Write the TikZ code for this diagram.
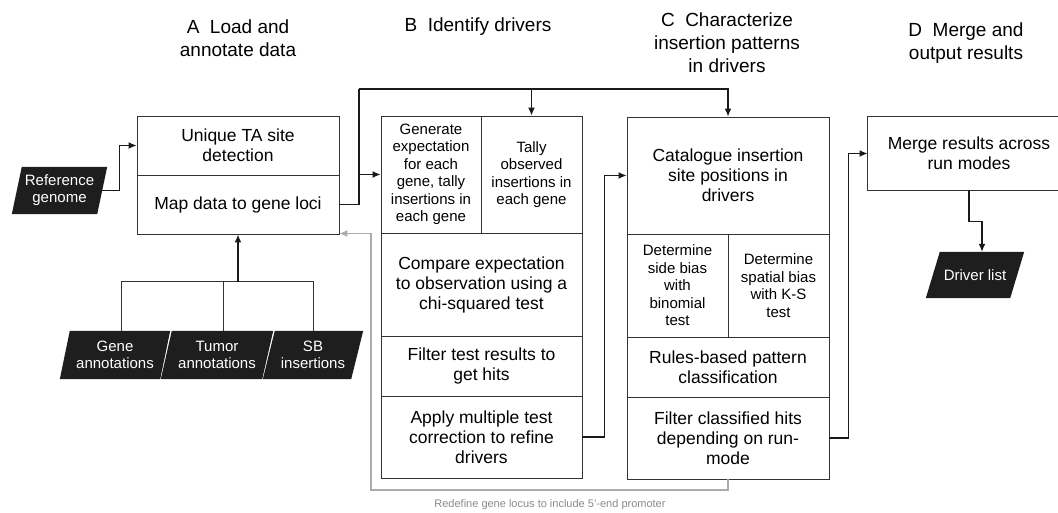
\documentclass[tikz,border=0pt]{standalone}
\usepackage{fontspec}
\setmainfont{Liberation Sans}
\usetikzlibrary{arrows.meta}
\definecolor{boxc}{HTML}{333333}
\definecolor{linec}{HTML}{1A1A1A}
\definecolor{grayc}{HTML}{ABABAB}
\definecolor{labc}{HTML}{8A8A8A}
\definecolor{parac}{HTML}{1E1E1E}
\pgfdeclarelayer{bg}
\pgfsetlayers{bg,main}
\newcommand\drawpara[2]{\fill[parac] ([xshift=#2]#1.north west) -- ([xshift=#2]#1.north east) -- ([xshift=-#2]#1.south east) -- ([xshift=-#2]#1.south west) -- cycle;}
\begin{document}
\begin{tikzpicture}[x=1pt,y=-1pt,
  box/.style={draw=boxc, line width=0.9pt, align=center, inner sep=0pt, font=\fontsize{17.5}{20}\selectfont},
  cellbox/.style={box, font=\fontsize{15}{17.5}\selectfont},
  databox/.style={inner sep=0pt, align=center, text=white, font=\fontsize{15}{17}\selectfont},
  titlebox/.style={align=center, inner sep=0pt, font=\fontsize{19}{23}\selectfont},
  arr/.style={line width=1.3pt, draw=linec, -{Latex[length=8pt,width=7pt]}},
  garr/.style={line width=1.2pt, draw=grayc, -{Latex[length=8pt,width=7pt]}},
  ln/.style={line width=1.3pt, draw=linec}]
\useasboundingbox (0,0) rectangle (1058,513);

% titles
\node[titlebox] (tA) at (238,38) {A\ \ Load and\\annotate data};
\node[titlebox] (tB) at (478,27) {B\ \ Identify drivers};
\node[titlebox] (tC) at (727,43) {C\ \ Characterize\\insertion patterns\\in drivers};
\node[titlebox] (tD) at (966,43) {D\ \ Merge and\\output results};

% A
\node[box, minimum width=202, minimum height=59] (uta) at (238,145.5) {Unique TA site\\detection};
\node[box, minimum width=202, minimum height=59] (map) at (238,204.5) {Map data to gene loci};

% data inputs
\node[databox, minimum width=85, minimum height=47] (ref) at (59.5,190.5) {Reference\\genome};
\node[databox, minimum width=100, minimum height=48] (gene) at (115,355) {Gene\\annotations};
\node[databox, minimum width=101, minimum height=48] (tumor) at (217,355) {Tumor\\annotations};
\node[databox, minimum width=88, minimum height=48] (sb) at (313,355) {SB\\insertions};
\node[databox, minimum width=84, minimum height=46] (drv) at (975,275) {Driver list};
\begin{pgfonlayer}{bg}
\drawpara{ref}{5}
\drawpara{gene}{5}
\drawpara{tumor}{5.5}
\drawpara{sb}{6}
\drawpara{drv}{7}
\end{pgfonlayer}

% B
\node[cellbox, minimum width=100, minimum height=117] (gen) at (431,174.5) {Generate\\expectation\\for each\\gene, tally\\insertions in\\each gene};
\node[cellbox, minimum width=101, minimum height=117] (tally) at (531.5,174.5) {Tally\\observed\\insertions in\\each gene};
\node[box, minimum width=201, minimum height=103] (cmp) at (481.5,284.5) {Compare expectation\\to observation using a\\chi-squared test};
\node[box, minimum width=201, minimum height=60] (filt) at (481.5,366) {Filter test results to\\get hits};
\node[box, minimum width=201, minimum height=82] (apply) at (481.5,437) {Apply multiple test\\correction to refine\\drivers};

% C
\node[box, minimum width=202, minimum height=117] (cat) at (728,175.5) {Catalogue insertion\\site positions in\\drivers};
\node[cellbox, minimum width=101, minimum height=103] (side) at (677.5,285.5) {Determine\\side bias\\with\\binomial\\test};
\node[cellbox, minimum width=101, minimum height=103] (spat) at (778.5,285.5) {Determine\\spatial bias\\with K-S\\test};
\node[box, minimum width=202, minimum height=60] (rules) at (728,367) {Rules-based pattern\\classification};
\node[box, minimum width=202, minimum height=82] (filtc) at (728,438) {Filter classified hits\\depending on run-\\mode};

% D
\node[box, draw=none, minimum width=202, minimum height=73] (dbox) at (969,153.5) {Merge results across\\run modes};
\draw[boxc, line width=0.9pt] (dbox.north west) ++(192,0) -- (dbox.north west) -- (dbox.south west) -- ++(192,0);

% connectors
\draw[arr] (ref.east) -- ++(17,0) |- (uta.west);
\coordinate (j1) at (359,89);
\draw[ln] (map.east) -| (j1);
\draw[arr] (j1) -| (tally.north);
\draw[arr] (j1) -| (cat.north);
\draw[arr] (map.east -| j1) |- (gen.west);
\draw[arr] (apply.east) -- ++(22,0) |- (cat.west);
\draw[arr] (filtc.east) -- ++(19,0) |- (dbox.west);
\draw[arr] (dbox.south) -- ++(0,31) -| ([xshift=7pt]drv.north);

\coordinate (jin) at (238,282);
\coordinate (h1) at (121,282);
\coordinate (h2) at (223,282);
\coordinate (h3) at (313,282);
\draw[line width=1pt, draw=boxc] (h1 |- gene.north) -- (h1) -- (h3) -- (h3 |- sb.north);
\draw[line width=1pt, draw=boxc] (h2) -- (h2 |- tumor.north);
\draw[arr, line width=2pt] (jin) -- (map.south);

\coordinate (gc) at (371,490);
\draw[garr] (filtc.south) |- (gc) |- ([yshift=1pt]map.south east);
\node[text=labc, font=\fontsize{11}{13}\selectfont, inner sep=0pt] (glab) at (550,505) {Redefine gene locus to include 5'-end promoter};
\end{tikzpicture}
\end{document}
